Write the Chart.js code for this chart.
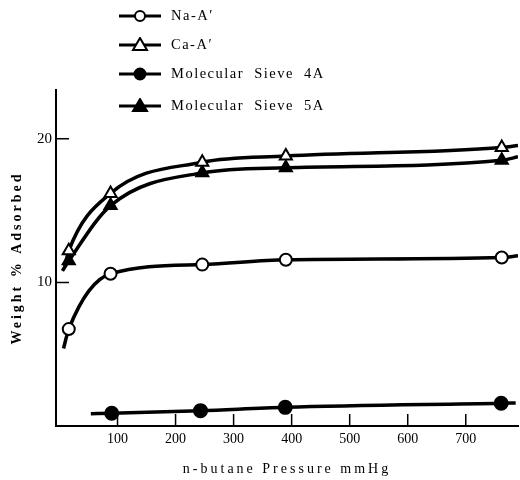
<!DOCTYPE html>
<html>
<head>
<meta charset="utf-8">
<script src="https://cdn.jsdelivr.net/npm/chart.js@4"></script>
<style>
  body { margin: 0; background: #fff; }
  #wrap { position: relative; width: 520px; height: 480px; }
  #legend { position: absolute; left: 118px; top: 0; }
  .item { position: absolute; left: 0; display: flex; align-items: center; white-space: nowrap;
          font-family: "Liberation Serif", serif; font-size: 14.5px; letter-spacing: 1.5px; word-spacing: 5px; color: #000; }
  .item svg { margin-right: 9px; }
</style>
</head>
<body>
<div id="wrap">
  <canvas id="chart" width="520" height="480"></canvas>
  <div id="legend"></div>
</div>
<script>
const $ = (s) => document.querySelector(s);

// measured points (pressure mmHg -> weight % adsorbed)
const pressure = [16, 88, 246, 390, 762];
const naA = [6.75, 10.6, 11.24, 11.58, 11.74];
const caA = [12.2, 16.2, 18.37, 18.8, 19.4];
const sieve5A = [11.5, 15.35, 17.63, 17.98, 18.5];
const pressure4A = [90, 243, 389, 761];
const sieve4A = [0.89, 1.07, 1.3, 1.58];

// where the drawn curves start and end
const naEnds = [[7, 5.4], [790, 11.85]];
const caEnds = [[9, 11.1], [790, 19.54]];
const s5Ends = [[5, 10.8], [790, 18.75]];
const s4Ends = [[54, 0.86], [786, 1.6]];

const xTicks = [100, 200, 300, 400, 500, 600, 700];
const yTicks = [10, 20];

const series = [
  { label: "Na-A\u2032", xs: pressure, ys: naA, ends: naEnds, style: "circle", fill: "#fff", r: 6 },
  { label: "Ca-A\u2032", xs: pressure, ys: caA, ends: caEnds, style: "triangle", fill: "#fff", r: 7 },
  { label: "Molecular Sieve 4A", xs: pressure4A, ys: sieve4A, ends: s4Ends, style: "circle", fill: "#000", r: 6.5 },
  { label: "Molecular Sieve 5A", xs: pressure, ys: sieve5A, ends: s5Ends, style: "triangle", fill: "#000", r: 7 },
];

const pts = (xs, ys) => xs.map((x, i) => ({ x, y: ys[i] }));

const datasets = [];
series.forEach((s) => {
  const p = pts(s.xs, s.ys);
  datasets.push({
    label: s.label + " curve",
    data: [{ x: s.ends[0][0], y: s.ends[0][1] }, ...p, { x: s.ends[1][0], y: s.ends[1][1] }],
    showLine: true,
    borderColor: "#000",
    borderWidth: 3.5,
    pointRadius: 0,
    cubicInterpolationMode: "monotone",
    order: 2,
  });
  datasets.push({
    label: s.label,
    data: p,
    showLine: false,
    pointStyle: s.style,
    pointRadius: s.r,
    pointBackgroundColor: s.fill,
    pointBorderColor: "#000",
    pointBorderWidth: 2,
    order: 1,
  });
});

// tick marks drawn inward from the axes
const innerTicks = {
  id: "innerTicks",
  afterDraw(chart) {
    const { ctx, scales: { x, y } } = chart;
    ctx.save();
    ctx.strokeStyle = "#000";
    ctx.lineWidth = 1.5;
    ctx.beginPath();
    xTicks.forEach((v) => {
      const px = x.getPixelForValue(v);
      ctx.moveTo(px, y.bottom);
      ctx.lineTo(px, y.bottom - 12);
    });
    yTicks.forEach((v) => {
      const py = y.getPixelForValue(v);
      ctx.moveTo(x.left, py);
      ctx.lineTo(x.left + 13, py);
    });
    ctx.stroke();
    ctx.restore();
  },
};

// wider letter spacing on the axis titles
const spacedTitles = {
  id: "spacedTitles",
  beforeDraw(chart) {
    Object.values(chart.scales).forEach((s) => {
      if (s._spaced) return;
      const orig = s.drawTitle;
      s.drawTitle = function () {
        this.ctx.save();
        this.ctx.letterSpacing = "3px";
        orig.apply(this, arguments);
        this.ctx.restore();
      };
      s._spaced = true;
    });
  },
};

new Chart($("#chart"), {
  type: "scatter",
  data: { datasets },
  plugins: [innerTicks, spacedTitles],
  options: {
    responsive: false,
    animation: false,
    layout: { autoPadding: false, padding: { top: 90, right: 2, bottom: 0, left: 0 } },
    plugins: { legend: { display: false }, tooltip: { enabled: false } },
    scales: {
      x: {
        type: "linear",
        min: -6,
        max: 790,
        afterBuildTicks: (s) => { s.ticks = xTicks.map((value) => ({ value })); },
        afterFit: (s) => { s.height = 54; s.paddingLeft = 0; s.paddingRight = 0; },
        ticks: { color: "#000", padding: 5, font: { family: "Liberation Serif", size: 14 } },
        grid: { display: false, drawTicks: false },
        border: { display: true, color: "#000", width: 2 },
        title: {
          display: true,
          text: "n-butane Pressure mmHg",
          color: "#000",
          padding: { top: 0, bottom: 2 },
          font: { family: "Liberation Serif", size: 14 },
        },
      },
      y: {
        type: "linear",
        min: 0,
        max: 23.4,
        afterBuildTicks: (s) => { s.ticks = yTicks.map((value) => ({ value })); },
        afterFit: (s) => { s.width = 56; },
        ticks: { color: "#000", padding: 4, font: { family: "Liberation Serif", size: 15 } },
        grid: { display: false, drawTicks: false },
        border: { display: true, color: "#000", width: 2 },
        title: {
          display: true,
          text: "Weight % Adsorbed",
          color: "#000",
          align: "center",
          padding: { top: 9, bottom: 0 },
          font: { family: "Liberation Serif", size: 14, weight: "bold" },
        },
      },
    },
  },
});

// legend: line with marker, like the original key
const legendTops = [15, 44, 73, 105];
$("#legend").innerHTML = series
  .map((s, i) => {
    const mark = s.style === "circle"
      ? `<circle cx="22" cy="8" r="${s.r - 1}" fill="${s.fill}" stroke="#000" stroke-width="2"/>`
      : `<polygon points="22,1 29,13 15,13" fill="${s.fill}" stroke="#000" stroke-width="2"/>`;
    return `<div class="item" style="top:${legendTops[i] - 8}px">
      <svg width="44" height="16"><line x1="1" y1="8" x2="43" y2="8" stroke="#000" stroke-width="3"/>${mark}</svg>
      <span>${s.label}</span></div>`;
  })
  .join("");
</script>
</body>
</html>
